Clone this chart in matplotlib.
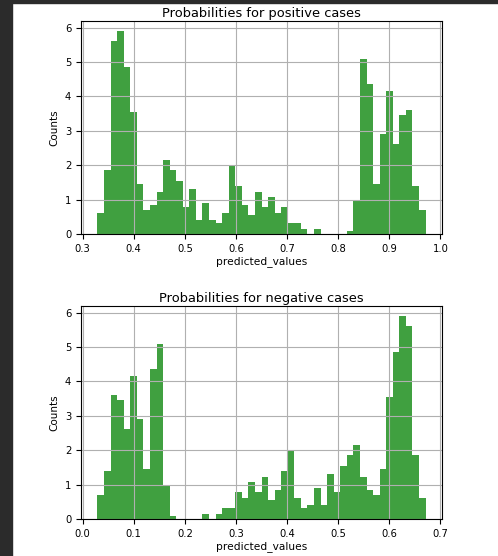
import numpy as np
import matplotlib
matplotlib.use("Agg")
import matplotlib.pyplot as plt
from matplotlib.patches import Rectangle

# === Data (density-normalised histograms, 50 bins) ===
pos_range = (0.329, 0.971)
pos_heights = [
    0.62, 1.85, 5.60, 5.90, 4.85, 3.55, 1.45, 0.70, 0.85, 1.22,
    2.15, 1.85, 1.55, 0.78, 1.30, 0.40, 0.90, 0.40, 0.33, 0.62,
    2.00, 1.40, 0.85, 0.55, 1.22, 0.78, 1.08, 0.62, 0.78, 0.33,
    0.33, 0.15, 0.00, 0.15, 0.00, 0.00, 0.00, 0.00, 0.08, 0.98,
    5.08, 4.35, 1.45, 2.90, 4.15, 2.63, 3.45, 3.62, 1.40, 0.70,
]

neg_range = (0.029, 0.671)
neg_heights = [
    0.70, 1.40, 3.62, 3.45, 2.63, 4.15, 2.90, 1.45, 4.35, 5.08,
    0.98, 0.08, 0.00, 0.00, 0.00, 0.00, 0.15, 0.00, 0.15, 0.33,
    0.33, 0.78, 0.62, 1.08, 0.78, 1.22, 0.55, 0.85, 1.40, 2.00,
    0.62, 0.33, 0.40, 0.90, 0.40, 1.30, 0.78, 1.55, 1.85, 2.15,
    1.22, 0.85, 0.70, 1.45, 3.55, 4.85, 5.90, 5.60, 1.85, 0.62,
]

titles = ["Probabilities for positive cases", "Probabilities for negative cases"]
x_label = "predicted_values"
y_label = "Counts"

plt.rcParams["font.size"] = 7.2


def draw_hist(ax, heights, value_range, title):
    edges = np.linspace(value_range[0], value_range[1], len(heights) + 1)
    centers = (edges[:-1] + edges[1:]) / 2
    ax.hist(centers, bins=edges, weights=heights, color="green", alpha=0.75)
    ax.grid(True, color="#b0b0b0", linewidth=0.8)
    ax.set_title(title, fontsize=9.4, pad=3)
    ax.set_xlabel(x_label, fontsize=7.7, labelpad=2)
    ax.set_ylabel(y_label, fontsize=7.5, labelpad=4)


fig = plt.figure(figsize=(4.98, 5.56), dpi=100)
ax_top = fig.add_axes([0.1627, 0.5791, 0.7249, 0.3831])
ax_bot = fig.add_axes([0.1627, 0.0665, 0.7249, 0.3831])

draw_hist(ax_top, pos_heights, pos_range, titles[0])
draw_hist(ax_bot, neg_heights, neg_range, titles[1])

# dark notebook frame around the output cell
fig.add_artist(Rectangle((0, 0), 12 / 498, 1, transform=fig.transFigure,
                         color="#2b2b2b", zorder=10))
fig.add_artist(Rectangle((0, 1 - 3 / 556), 1, 3 / 556, transform=fig.transFigure,
                         color="#2b2b2b", zorder=10))

fig.savefig("out.png", dpi=100)
